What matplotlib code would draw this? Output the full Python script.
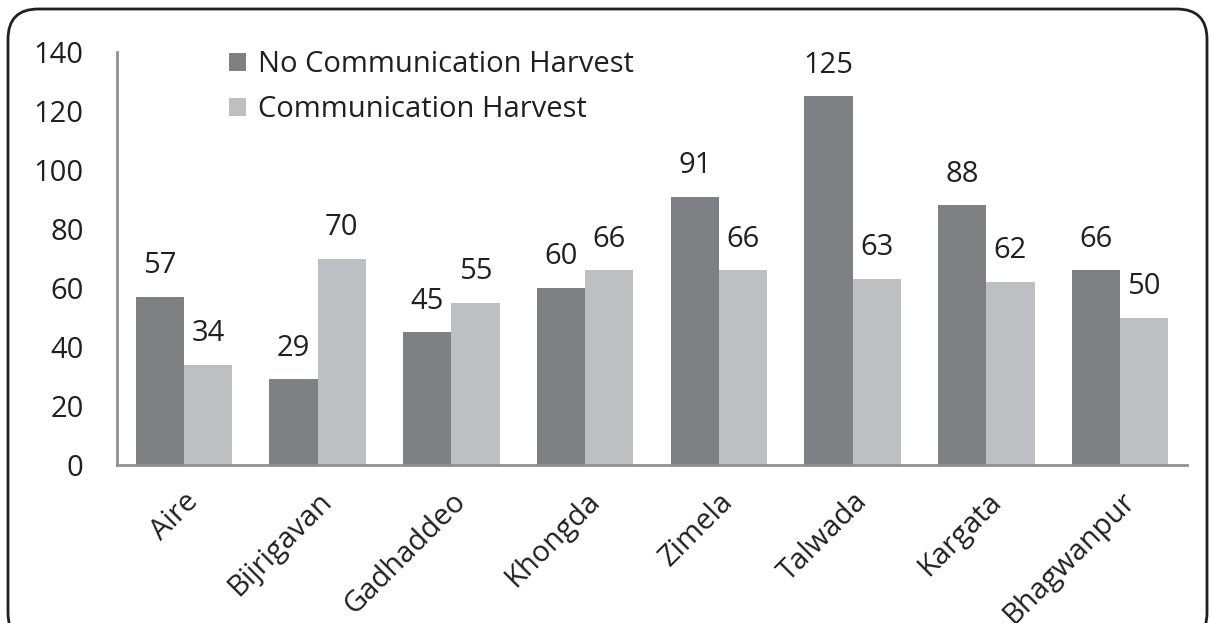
import numpy as np
import matplotlib
matplotlib.use('Agg')
import matplotlib.pyplot as plt
from matplotlib.patches import FancyBboxPatch

villages = ['Aire', 'Bijrigavan', 'Gadhaddeo', 'Khongda', 'Zimela', 'Talwada', 'Kargata', 'Bhagwanpur']
no_comm = [57, 29, 45, 60, 91, 125, 88, 66]
comm = [34, 70, 55, 66, 66, 63, 62, 50]
yticks = [0, 20, 40, 60, 80, 100, 120, 140]

plt.rcParams['font.family'] = ['Open Sans', 'DejaVu Sans']
FS = 21

fig = plt.figure(figsize=(12.10, 6.23), dpi=100)
W, H = 1210, 623
ax = fig.add_axes([117 / W, 1 - 465 / H, (1187 - 117) / W, (465 - 52) / H])

x = np.arange(len(villages))
w = 0.36
dark = '#7f8084'
light = '#bebfc2'
b1 = ax.bar(x - w / 2, no_comm, w, color=dark, label='No Communication Harvest')
b2 = ax.bar(x + w / 2, comm, w, color=light, label='Communication Harvest')

for bars, vals in ((b1, no_comm), (b2, comm)):
    for r, v in zip(bars, vals):
        ax.annotate(str(v), (r.get_x() + r.get_width() / 2, v), xytext=(0, 12),
                    textcoords='offset points', ha='center', va='bottom',
                    fontsize=FS, color='#231f20')

ax.set_xlim(-0.5, len(villages) - 0.5)
ax.set_ylim(0, 140)
ax.set_yticks(yticks)
ax.set_yticklabels([str(t) for t in yticks], fontsize=FS, color='#231f20')
ax.set_xticks(x)
ax.set_xticklabels(villages, rotation=45, ha='right', rotation_mode='anchor',
                   fontsize=FS, color='#231f20')
ax.tick_params(axis='y', length=0, pad=24)
ax.tick_params(axis='x', length=0, pad=16)

for s in ('top', 'right'):
    ax.spines[s].set_visible(False)
for s in ('left', 'bottom'):
    ax.spines[s].set_color('#8f9093')
    ax.spines[s].set_linewidth(2)

ax.legend(loc='upper left', bbox_to_anchor=(0.08, 1.068), frameon=False, fontsize=FS,
          handlelength=0.6, handleheight=0.6, handletextpad=0.4, labelspacing=0.55,
          labelcolor='#231f20')

# rounded outer frame
frame = FancyBboxPatch((8 / W, -20 / H), (1199) / W, (614 + 20) / H,
                       boxstyle='round,pad=0,rounding_size=0.025',
                       transform=fig.transFigure, fill=False,
                       edgecolor='#231f20', linewidth=2, mutation_aspect=W / H)
fig.patches.append(frame)

fig.savefig('out.png', dpi=100)
